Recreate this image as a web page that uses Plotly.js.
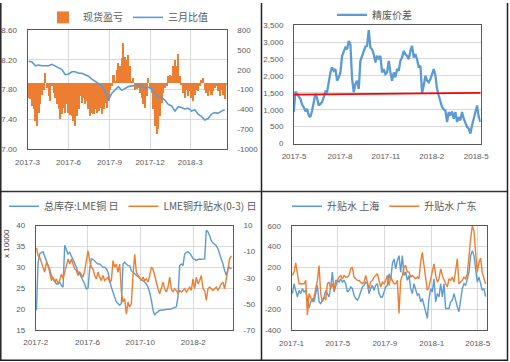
<!DOCTYPE html>
<html><head><meta charset="utf-8">
<script src="https://cdn.plot.ly/plotly-3.0.1.min.js"></script>
<style>html,body{margin:0;padding:0;background:#fff;}#chart{width:510px;height:362px;}</style>
</head><body><div id="chart"></div>
<script>
// ---------- Panel 1: 现货盈亏 (bars, right axis) & 三月比值 (line, left axis) ----------
const p1BarStart = '2017-03-03T12:00:00Z', p1BarStep = 3.73;
const p1Profit = [-225,-250,-350,-400,-575,-650,-450,-325,-175,-100,150,-75,-200,-275,-50,-150,-225,-325,-400,-550,-475,-375,-450,-325,-450,-480,-500,-575,-650,-500,-400,-200,-300,-225,-325,-275,-400,-500,-450,-475,-400,-460,-425,-375,-475,-400,-300,-375,-275,-100,-50,125,25,200,300,250,375,600,400,
 350,425,250,25,75,-100,-90,-75,-150,-225,-325,-375,-200,75,-75,-150,-400,-650,-775,-700,-500,-300,-150,-75,-50,100,125,100,250,350,250,440,100,-25,-150,-225,-100,-200,-125,-225,-275,-175,-100,-125,-50,50,75,-100,-150,-200,-125,-175,-125,-75,-50,-125,-200,-100,-175,-250,-50];
const p1LineStart = '2017-03-03T12:00:00Z', p1LineStep = 7.46;
const p1Ratio = [8.18,8.17,8.12,8.13,8.12,8.12,8.12,8.14,8.12,8.10,8.07,8.00,8.01,8.04,8.04,8.02,8.02,8.00,7.98,7.94,7.91,7.87,7.85,7.78,7.66,7.75,7.80,7.84,7.79,7.82,
 7.84,7.85,7.85,7.86,7.84,7.82,7.83,7.81,7.75,7.69,7.69,7.66,7.60,7.58,7.51,7.57,7.56,7.54,7.55,7.51,7.53,7.47,7.44,7.39,7.41,7.47,7.49,7.48,7.51,7.53];
const p1XTickVals = ['2017-03-01','2017-06-01','2017-09-01','2017-12-01','2018-03-01'];
const p1XTickText = ['2017-3','2017-6','2017-9','2017-12','2018-3'];
const p1LeftTickVals = [7.0,7.4,7.8,8.2,8.6];
const p1LeftTickText = ['7.00','7.40','7.80','8.20','8.60'];
const p1RightTickVals = [-1000,-700,-400,-100,200,500,800];
const p1RightTickText = ['-1000','-700','-400','-100','200','500','800'];

// ---------- Panel 2: 精废价差 ----------
const p2Start = '2017-04-30T08:00:00Z', p2Step = 3.34;
const p2Spread = [929,1535,1467,1398,1320,1150,1075,948,1027,831,782,978,1222,1467,1340,1124,1173,1222,1369,1535,1516,1858,2102,2249,2151,2200,1858,1955,2102,2591,2738,2835,2786,3031,2933,1907,1516,1760,1858,1613,2444,2591,2689,2865,2884,3350,2835,2786,2640,2395,2591,2493,2591,2102,2200,2053,2102,2444,2102,1858,2102,1955,2200,2151,2444,2542,2738,2640,2591,2493,2738,2884,2542,2640,2493,2249,2298,1496,1711,2004,1858,1809,1907,2053,2200,2004,1613,1418,1271,1075,1007,978,636,929,831,948,733,929,636,782,684,929,733,587,489,440,293,538,733,880,1124,782,636];
const p2TrendX = ['2017-05-01','2018-05-10'];
const p2TrendY = [1445,1500];
const p2XTickVals = ['2017-05-01','2017-08-01','2017-11-01','2018-02-01','2018-05-01'];
const p2XTickText = ['2017-5','2017-8','2017-11','2018-2','2018-5'];
const p2YTickVals = [0,500,1000,1500,2000,2500,3000,3500];
const p2YTickText = ['0','500','1,000','1,500','2,000','2,500','3,000','3,500'];

// ---------- Panel 3: 总库存:LME铜 日 (left, x10000) & LME铜升贴水(0-3) 日 (right) ----------
const p3Start = '2017-02-02T11:00:00Z', p3Step = 3.86;
const p3Stock = [19.7,31.0,33.2,33.6,33.7,32.8,31.6,30.4,29.6,28.0,27.2,26.4,26.0,26.0,26.4,25.6,25.2,35.3,34.4,33.2,33.6,32.8,32.0,31.2,30.0,28.8,28.4,27.6,26.8,26.0,24.8,25.0,29.6,32.0,31.9,31.4,31.1,30.8,30.8,30.4,30.0,30.0,29.6,28.8,26.8,25.2,24.0,22.5,21.7,21.3,20.9,21.3,30.8,31.2,30.8,30.4,30.4,
 29.2,28.8,28.4,28.0,27.6,27.2,27.0,26.8,26.4,26.0,25.2,24.0,22.1,19.7,18.5,19.1,19.3,19.7,19.7,19.7,19.8,19.9,19.9,19.9,20.0,20.2,20.3,20.5,22.9,30.4,30.8,30.4,33.2,33.6,33.7,33.4,32.8,32.1,31.9,31.6,31.9,32.0,31.9,31.9,32.0,38.9,38.5,37.6,36.4,35.8,35.6,35.2,34.4,33.2,32.4,30.8,29.2,28.0,29.6,30.0,29.6];
const p3Basis = [-7,-13.1,-14.4,-18.2,-20.7,-25.8,-18.2,-20.7,-25.8,-32.2,-29.6,-33.4,-30.9,-34.7,-32.2,-27.1,-30.9,-25.8,-22.0,-15.7,-19.5,-15.7,-19.5,-23.3,-24.5,-28.3,-25.8,-28.3,-29.6,-24.5,-16.9,-9.3,-16.9,-22.0,-23.3,-28.3,-30.9,-25.8,-29.6,-32.2,-28.3,-32.2,-30.9,-29.6,-33.4,-32.2,-16.9,-22.0,-19.5,-25.8,-19.5,-41.0,-48.7,-46.1,-58.0,-48.7,-52.5,
 -50,-28,-12,-25.8,-28.3,-30.9,-32.2,-29.6,-32.2,-30.9,-33.4,-28.3,-22.0,-23.3,-28.3,-34.7,-38.5,-42.3,-37.2,-33.4,-38.5,-41.0,-37.2,-29.6,-38.5,-41.0,-38.5,-39.8,-42.3,-39.8,-41.0,-39.8,-38.5,-41.0,-38.5,-37.2,-39.8,-30.9,-38.5,-29.6,-34.7,-32.2,-28.3,-38.5,-39.8,-47.4,-38.5,-37.2,-38.5,-39.8,-38.5,-37.2,-39.8,-37.2,-34.7,-33.4,-38.5,-30.9,-24.5,-15.7,-13.1];
const p3XTickVals = ['2017-02-01','2017-06-01','2017-10-01','2018-02-01'];
const p3XTickText = ['2017-2','2017-6','2017-10','2018-2'];
const p3LeftTickVals = [15,20,25,30,35,40];
const p3LeftTickText = ['15','20','25','30','35','40'];
const p3RightTickVals = [-70,-50,-30,-10,10];
const p3RightTickText = ['-70','-50','-30','-10','10'];

// ---------- Panel 4: 升贴水 上海 / 升贴水 广东 ----------
const p4Start = '2017-01-03T05:00:00Z', p4Step = 4.34;
const p4Shanghai = [-51,44,-19,-83,-19,-51,-3,-35,-19,-98,-190,-130,-98,-130,-51,29,-130,-146,-114,-83,-19,-51,-83,13,156,-35,29,76,60,92,60,76,44,-35,-19,13,-3,-67,-98,-114,-83,-35,13,29,60,44,-51,-3,29,-19,29,44,-51,-83,-83,-35,13,29,
 140,76,235,283,187,267,314,156,314,124,156,76,124,-3,-51,44,-3,-67,-51,-130,-98,-162,-210,-289,-98,-3,-35,92,-130,-51,-83,44,-83,44,-194,-194,-194,-130,-114,-51,-130,-178,-225,-83,-3,44,29,92,156,314,362,314,187,60,108,29,-19,-3,-80];
const p4Guangdong = [124,156,244,140,44,44,44,44,76,-257,-51,-98,-130,-83,-3,76,219,-51,-130,-83,-114,44,60,-3,44,-19,76,76,108,124,92,124,108,108,124,187,203,108,92,76,76,60,44,60,124,60,-3,60,76,108,124,140,76,13,60,44,76,124,
 29,108,76,44,44,76,-241,76,124,203,219,156,156,108,124,108,92,108,92,251,346,219,76,-19,13,92,140,235,124,60,92,187,124,76,44,13,92,76,108,60,203,283,44,60,76,108,92,140,330,473,600,552,346,156,250,290,150,100,40];
const p4XTickVals = ['2017-01-01','2017-05-01','2017-09-01','2018-01-01','2018-05-01'];
const p4XTickText = ['2017-1','2017-5','2017-9','2018-1','2018-5'];
const p4YTickVals = [-400,-200,0,200,400,600];
const p4YTickText = ['-400','-200','0','200','400','600'];

// ---------- helpers ----------
function dateSeries(start, stepDays, n) {
  const t0 = Date.parse(start);
  const out = [];
  for (let i = 0; i < n; i++) out.push(new Date(t0 + i * stepDays * 864e5).toISOString().slice(0, 19).replace('T', ' '));
  return out;
}
const W = 510, H = 362;
const fx = X => X / W, fy = Y => 1 - Y / H;

const BLUE = '#5B9BD5', ORANGE = '#ED7D31', RED = '#FF0000';
const GRID = '#D9D9D9', LINE = '#595959';
const tickFont = {family: 'Liberation Sans, Arial, sans-serif', size: 8, color: '#595959'};
const legFont = {family: 'Noto Sans CJK SC, sans-serif', size: 10, color: '#595959'};

function xAxis(dom, anchor, range, tv, tt, grid) {
  return {domain: [fx(dom[0]), fx(dom[1])], anchor, type: 'date', range, tickvals: tv, ticktext: tt,
    showgrid: grid, gridcolor: GRID, gridwidth: 1, showline: true, linecolor: LINE, linewidth: 1, mirror: true,
    ticks: '', tickfont: tickFont, ticklabelstandoff: 5, zeroline: false, fixedrange: true};
}
function yAxis(extra) {
  return Object.assign({showline: true, linecolor: LINE, linewidth: 1, ticks: '', tickfont: tickFont,
    ticklabelstandoff: 8, zeroline: false, gridcolor: GRID, gridwidth: 1, fixedrange: true}, extra);
}

const traces = [
  {type: 'bar', name: '现货盈亏', x: dateSeries(p1BarStart, p1BarStep, p1Profit.length), y: p1Profit,
   width: p1BarStep * 864e5 * 1.3,
   xaxis: 'x', yaxis: 'y', marker: {color: ORANGE, line: {width: 0}}, legend: 'legend'},
  {type: 'scatter', mode: 'lines', name: '三月比值', x: dateSeries(p1LineStart, p1LineStep, p1Ratio.length), y: p1Ratio,
   xaxis: 'x', yaxis: 'y2', line: {color: BLUE, width: 1.6}, legend: 'legend'},
  {type: 'scatter', mode: 'lines', name: '精废价差', x: dateSeries(p2Start, p2Step, p2Spread.length), y: p2Spread,
   xaxis: 'x2', yaxis: 'y3', line: {color: BLUE, width: 2.3}, legend: 'legend2'},
  {type: 'scatter', mode: 'lines', name: '趋势线', x: p2TrendX, y: p2TrendY, showlegend: false,
   xaxis: 'x2', yaxis: 'y3', line: {color: RED, width: 1.8}},
  {type: 'scatter', mode: 'lines', name: '总库存:LME铜 日', x: dateSeries(p3Start, p3Step, p3Stock.length), y: p3Stock,
   xaxis: 'x3', yaxis: 'y4', line: {color: BLUE, width: 1.4}, legend: 'legend3'},
  {type: 'scatter', mode: 'lines', name: 'LME铜升贴水(0-3) 日', x: dateSeries(p3Start, p3Step, p3Basis.length), y: p3Basis,
   xaxis: 'x3', yaxis: 'y5', line: {color: ORANGE, width: 1.4}, legend: 'legend3'},
  {type: 'scatter', mode: 'lines', name: '升贴水 上海', x: dateSeries(p4Start, p4Step, p4Shanghai.length), y: p4Shanghai,
   xaxis: 'x4', yaxis: 'y6', line: {color: BLUE, width: 1.4}, legend: 'legend4'},
  {type: 'scatter', mode: 'lines', name: '升贴水 广东', x: dateSeries(p4Start, p4Step, p4Guangdong.length), y: p4Guangdong,
   xaxis: 'x4', yaxis: 'y6', line: {color: ORANGE, width: 1.4}, legend: 'legend4'}
];

const legendBase = {orientation: 'h', xanchor: 'left', yanchor: 'middle', font: legFont,
  bgcolor: 'rgba(0,0,0,0)', borderwidth: 0, itemwidth: 30, itemclick: false, itemdoubleclick: false};

const layout = {
  width: W, height: H, margin: {l: 0, r: 0, t: 0, b: 0},
  paper_bgcolor: '#fff', plot_bgcolor: 'rgba(0,0,0,0)',
  bargap: 0, hovermode: false,
  font: {family: 'Noto Sans CJK SC, sans-serif', color: '#595959'},
  xaxis: xAxis([27.5, 226.7], 'y', ['2017-02-28 20:00', '2018-05-22'], p1XTickVals, p1XTickText, true),
  yaxis: yAxis({domain: [fy(147.3), fy(27.3)], anchor: 'x', side: 'right', range: [-1000, 800],
    tickvals: p1RightTickVals, ticktext: p1RightTickText, showgrid: false}),
  yaxis2: yAxis({overlaying: 'y', anchor: 'x', side: 'left', range: [7.0, 8.6],
    tickvals: p1LeftTickVals, ticktext: p1LeftTickText, showgrid: true}),
  xaxis2: xAxis([294, 480.7], 'y3', ['2017-04-30 20:00', '2018-05-10'], p2XTickVals, p2XTickText, false),
  yaxis3: yAxis({domain: [fy(141.7), fy(22.3)], anchor: 'x2', range: [0, 3500], mirror: true,
    tickvals: p2YTickVals, ticktext: p2YTickText, showgrid: true}),
  xaxis3: xAxis([35.7, 233], 'y4', ['2017-01-31 20:00', '2018-05-04'], p3XTickVals, p3XTickText, true),
  yaxis4: yAxis({domain: [fy(329.5), fy(224.5)], anchor: 'x3', side: 'left', range: [15, 40],
    tickvals: p3LeftTickVals, ticktext: p3LeftTickText, showgrid: true}),
  yaxis5: yAxis({overlaying: 'y4', anchor: 'x3', side: 'right', range: [-70, 10],
    tickvals: p3RightTickVals, ticktext: p3RightTickText, showgrid: false}),
  xaxis4: xAxis([291.5, 487.3], 'y6', ['2016-12-31 20:00', '2018-05-26'], p4XTickVals, p4XTickText, true),
  yaxis6: yAxis({domain: [fy(329.7), fy(224.7)], anchor: 'x4', range: [-400, 600], mirror: true,
    tickvals: p4YTickVals, ticktext: p4YTickText, showgrid: true}),
  legend: Object.assign({}, legendBase, {x: fx(43), y: fy(14.5)}),
  legend2: Object.assign({}, legendBase, {x: fx(332), y: fy(12)}),
  legend3: Object.assign({}, legendBase, {x: fx(4), y: fy(205)}),
  legend4: Object.assign({}, legendBase, {x: fx(287), y: fy(205)}),
  annotations: [
    {text: 'x 10000', xref: 'paper', yref: 'paper', x: fx(7), y: fy(243), textangle: -90, showarrow: false,
     xanchor: 'center', yanchor: 'middle', font: {family: 'Liberation Sans, Arial, sans-serif', size: 8, color: '#404040'}}
  ],
  shapes: [
    {type: 'line', xref: 'paper', yref: 'paper', x0: fx(261.5), x1: fx(261.5), y0: fy(0), y1: fy(361), line: {color: '#222', width: 1.5}},
    {type: 'line', xref: 'paper', yref: 'paper', x0: fx(0), x1: fx(507.5), y0: fy(190), y1: fy(190), line: {color: '#333', width: 1.5}},
    {type: 'line', xref: 'paper', yref: 'paper', x0: fx(0.8), x1: fx(0.8), y0: fy(0), y1: fy(361), line: {color: '#222', width: 1.5}},
    {type: 'line', xref: 'paper', yref: 'paper', x0: fx(507.5), x1: fx(507.5), y0: fy(0), y1: fy(361), line: {color: '#222', width: 1.5}},
    {type: 'line', xref: 'paper', yref: 'paper', x0: fx(0), x1: fx(507.5), y0: fy(360.2), y1: fy(360.2), line: {color: '#222', width: 1.5}}
  ]
};

Plotly.newPlot('chart', traces, layout, {staticPlot: true, displayModeBar: false});
</script>
</body></html>
